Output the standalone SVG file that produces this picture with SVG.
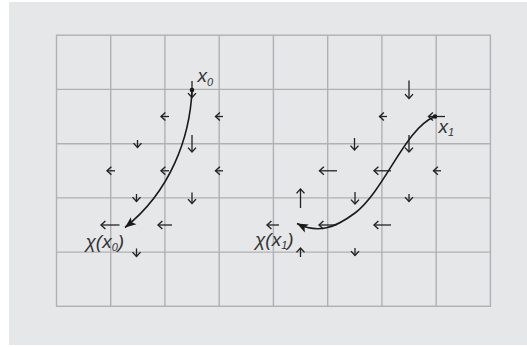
<svg xmlns="http://www.w3.org/2000/svg" width="527" height="347" viewBox="0 0 527 347">
<style>
.bg{fill:#e6e7e9}
.grid{fill:none;stroke:#b1b1b3;stroke-width:1.4}
.fa{stroke:#232323;stroke-width:1.3;fill:none;marker-end:url(#ah)}
.tr{stroke:#1a1a1a;stroke-width:1.6;fill:none;marker-end:url(#fh)}
.dot{fill:#1a1a1a}
.lbl{font-family:"Liberation Sans",Arial,sans-serif;font-style:italic;font-size:19px;fill:#333333}
.sub{font-size:11px}
</style>
<defs>
<marker id="ah" markerUnits="userSpaceOnUse" markerWidth="8" markerHeight="10" refX="5" refY="4" orient="auto" overflow="visible">
<path d="M0.6,0 L5,4 L0.6,8" fill="none" stroke="#232323" stroke-width="1.4"/>
</marker>
<marker id="fh" markerUnits="userSpaceOnUse" markerWidth="12" markerHeight="10" refX="11" refY="4.5" orient="auto" overflow="visible">
<path d="M0,0 L11,4.5 L0,9 L2.5,4.5 z" fill="#1a1a1a"/>
</marker>
</defs>
<rect class="bg" x="9" y="2" width="518" height="343"/>
<g id="grid" class="grid">
<rect x="56.5" y="35.2" width="433.9" height="271.1"/>
<path d="M110.7,35.2V306.3M164.9,35.2V306.3M219.2,35.2V306.3M273.4,35.2V306.3M327.7,35.2V306.3M381.9,35.2V306.3M436.2,35.2V306.3M56.5,89.4H490.4M56.5,143.7H490.4M56.5,197.9H490.4M56.5,252.1H490.4"/>
</g>
<g id="field">
<line class="fa" x1="169" y1="116.5" x2="161" y2="116.5"/>
<line class="fa" x1="223" y1="116.5" x2="215.5" y2="116.5"/>
<line class="fa" x1="115" y1="170.8" x2="107" y2="170.8"/>
<line class="fa" x1="169" y1="170.8" x2="161" y2="170.8"/>
<line class="fa" x1="223" y1="170.8" x2="215.5" y2="170.8"/>
<line class="fa" x1="119.5" y1="225" x2="101" y2="225"/>
<line class="fa" x1="172" y1="225" x2="158" y2="225"/>
<line class="fa" x1="387" y1="116.5" x2="379.5" y2="116.5"/>
<line class="fa" x1="445" y1="116.5" x2="428.5" y2="116.5"/>
<line class="fa" x1="337" y1="170.8" x2="319.5" y2="170.8"/>
<line class="fa" x1="391" y1="170.8" x2="374" y2="170.8"/>
<line class="fa" x1="441" y1="170.8" x2="433.5" y2="170.8"/>
<line class="fa" x1="279" y1="225" x2="267" y2="225"/>
<line class="fa" x1="336.5" y1="225" x2="319" y2="225"/>
<line class="fa" x1="391" y1="225" x2="374" y2="225"/>
<line class="fa" x1="192" y1="81" x2="192" y2="97.5"/>
<line class="fa" x1="192" y1="135" x2="192" y2="152"/>
<line class="fa" x1="137.5" y1="140" x2="137.5" y2="147.5"/>
<line class="fa" x1="136.5" y1="194" x2="136.5" y2="201.5"/>
<line class="fa" x1="192" y1="192.5" x2="192" y2="203.5"/>
<line class="fa" x1="136.5" y1="248.5" x2="136.5" y2="256.5"/>
<line class="fa" x1="409" y1="80.5" x2="409" y2="98.5"/>
<line class="fa" x1="354.5" y1="138" x2="354.5" y2="150"/>
<line class="fa" x1="409" y1="135" x2="409" y2="152"/>
<line class="fa" x1="355" y1="192" x2="355" y2="204"/>
<line class="fa" x1="409" y1="194" x2="409" y2="201.5"/>
<line class="fa" x1="355" y1="248" x2="355" y2="255.5"/>
<line class="fa" x1="300.5" y1="208" x2="300.5" y2="189"/>
<line class="fa" x1="300.5" y1="257" x2="300.5" y2="248"/>
</g>
<g id="connectors">
<path class="tr" d="M192,90 C190,138 170,192 125,227.5"/>
<path class="tr" d="M435,116.5 C405,128 385,190 355,213 C335,228 318,234 297,223.5"/>
</g>
<g id="x0">
<circle class="dot" cx="192" cy="90" r="2.3"/>
<text class="lbl" x="197.5" y="82">x<tspan class="sub" dy="4">0</tspan></text>
</g>
<g id="x1">
<circle class="dot" cx="435" cy="116.5" r="2.3"/>
<text class="lbl" x="438.5" y="132.5">x<tspan class="sub" dy="3">1</tspan></text>
</g>
<g id="chi-x0">
<text class="lbl" x="85.5" y="248">χ(x<tspan class="sub" dy="3">0</tspan><tspan dy="-3">)</tspan></text>
</g>
<g id="chi-x1">
<text class="lbl" x="255" y="246">χ(x<tspan class="sub" dy="3">1</tspan><tspan dy="-3">)</tspan></text>
</g>
</svg>
